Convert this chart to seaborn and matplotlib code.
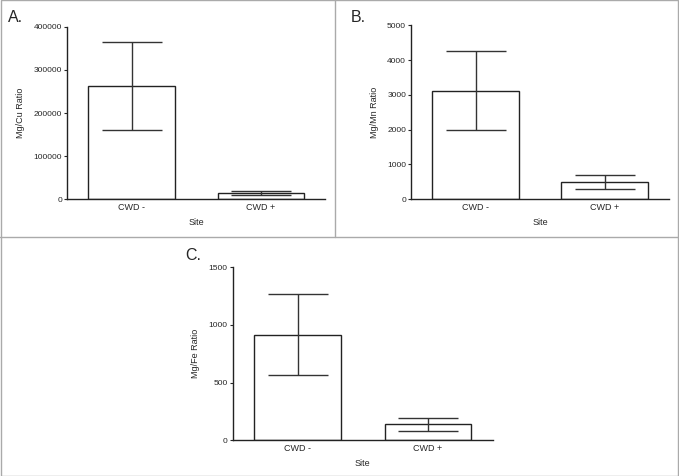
import numpy as np
import pandas as pd
import matplotlib
matplotlib.use("Agg")
import matplotlib.pyplot as plt
import seaborn as sns
from matplotlib.lines import Line2D
from matplotlib.patches import Rectangle

# Data (mean and error bar half-length)
sites = ["CWD -", "CWD +"]
cu_mean = [263000, 14000]
cu_err = [102000, 5000]
mn_mean = [3120, 495]
mn_err = [1130, 197]
fe_mean = [915, 139]
fe_err = [350, 56]

sns.set_theme(style="ticks")
plt.rcParams['font.family'] = ['Liberation Sans', 'DejaVu Sans']

fig = plt.figure(figsize=(6.79, 4.76), dpi=100)

panels = [
    ("A.", cu_mean, cu_err, "Mg/Cu Ratio", [0, 100000, 200000, 300000, 400000], [0.0987, 0.5819, 0.3800, 0.3614], (0.011, 0.963)),
    ("B.", mn_mean, mn_err, "Mg/Mn Ratio", [0, 1000, 2000, 3000, 4000, 5000], [0.6053, 0.5819, 0.3800, 0.3649], (0.517, 0.963)),
    ("C.", fe_mean, fe_err, "Mg/Fe Ratio", [0, 500, 1000, 1500], [0.3427, 0.0750, 0.3834, 0.3634], (0.273, 0.463)),
]

for letter, means, errs, ylab, yticks, pos, lpos in panels:
    ax = fig.add_axes(pos)
    df = pd.DataFrame({"Site": sites, "Value": means})
    sns.barplot(data=df, x="Site", y="Value", color="white", edgecolor="#222222",
                linewidth=1.0, width=0.667, errorbar=None, ax=ax)
    ax.errorbar(x=np.arange(len(sites)), y=means, yerr=errs, fmt="none",
                ecolor="#333333", elinewidth=1.0, capsize=21.5, capthick=1.0)
    ax.set_xlim(-0.5, 1.5)
    ax.set_ylim(0, yticks[-1])
    ax.set_yticks(yticks)
    ax.set_ylabel(ylab, fontsize=6.5, labelpad=6)
    ax.set_xlabel("Site", fontsize=6.5, labelpad=4)
    ax.tick_params(axis="y", labelsize=6, length=2.5, width=0.8, pad=1)
    ax.tick_params(axis="x", labelsize=6.5, length=0, pad=3)
    sns.despine(ax=ax)
    for s in ["left", "bottom"]:
        ax.spines[s].set_color("#222222")
        ax.spines[s].set_linewidth(1.0)
    fig.text(lpos[0], lpos[1], letter, fontsize=11.5, va="center", ha="left")

# panel borders
border = "#aaaaaa"
fig.add_artist(Rectangle((0.001, 0.001), 0.998, 0.998, transform=fig.transFigure,
                         fill=False, edgecolor=border, linewidth=1.0))
fig.add_artist(Line2D([0, 1], [1 - 237 / 476, 1 - 237 / 476], transform=fig.transFigure,
                      color=border, linewidth=1.0))
fig.add_artist(Line2D([335 / 679, 335 / 679], [1 - 237 / 476, 1], transform=fig.transFigure,
                      color=border, linewidth=1.0))

fig.savefig("out.png", dpi=100, facecolor="white")
